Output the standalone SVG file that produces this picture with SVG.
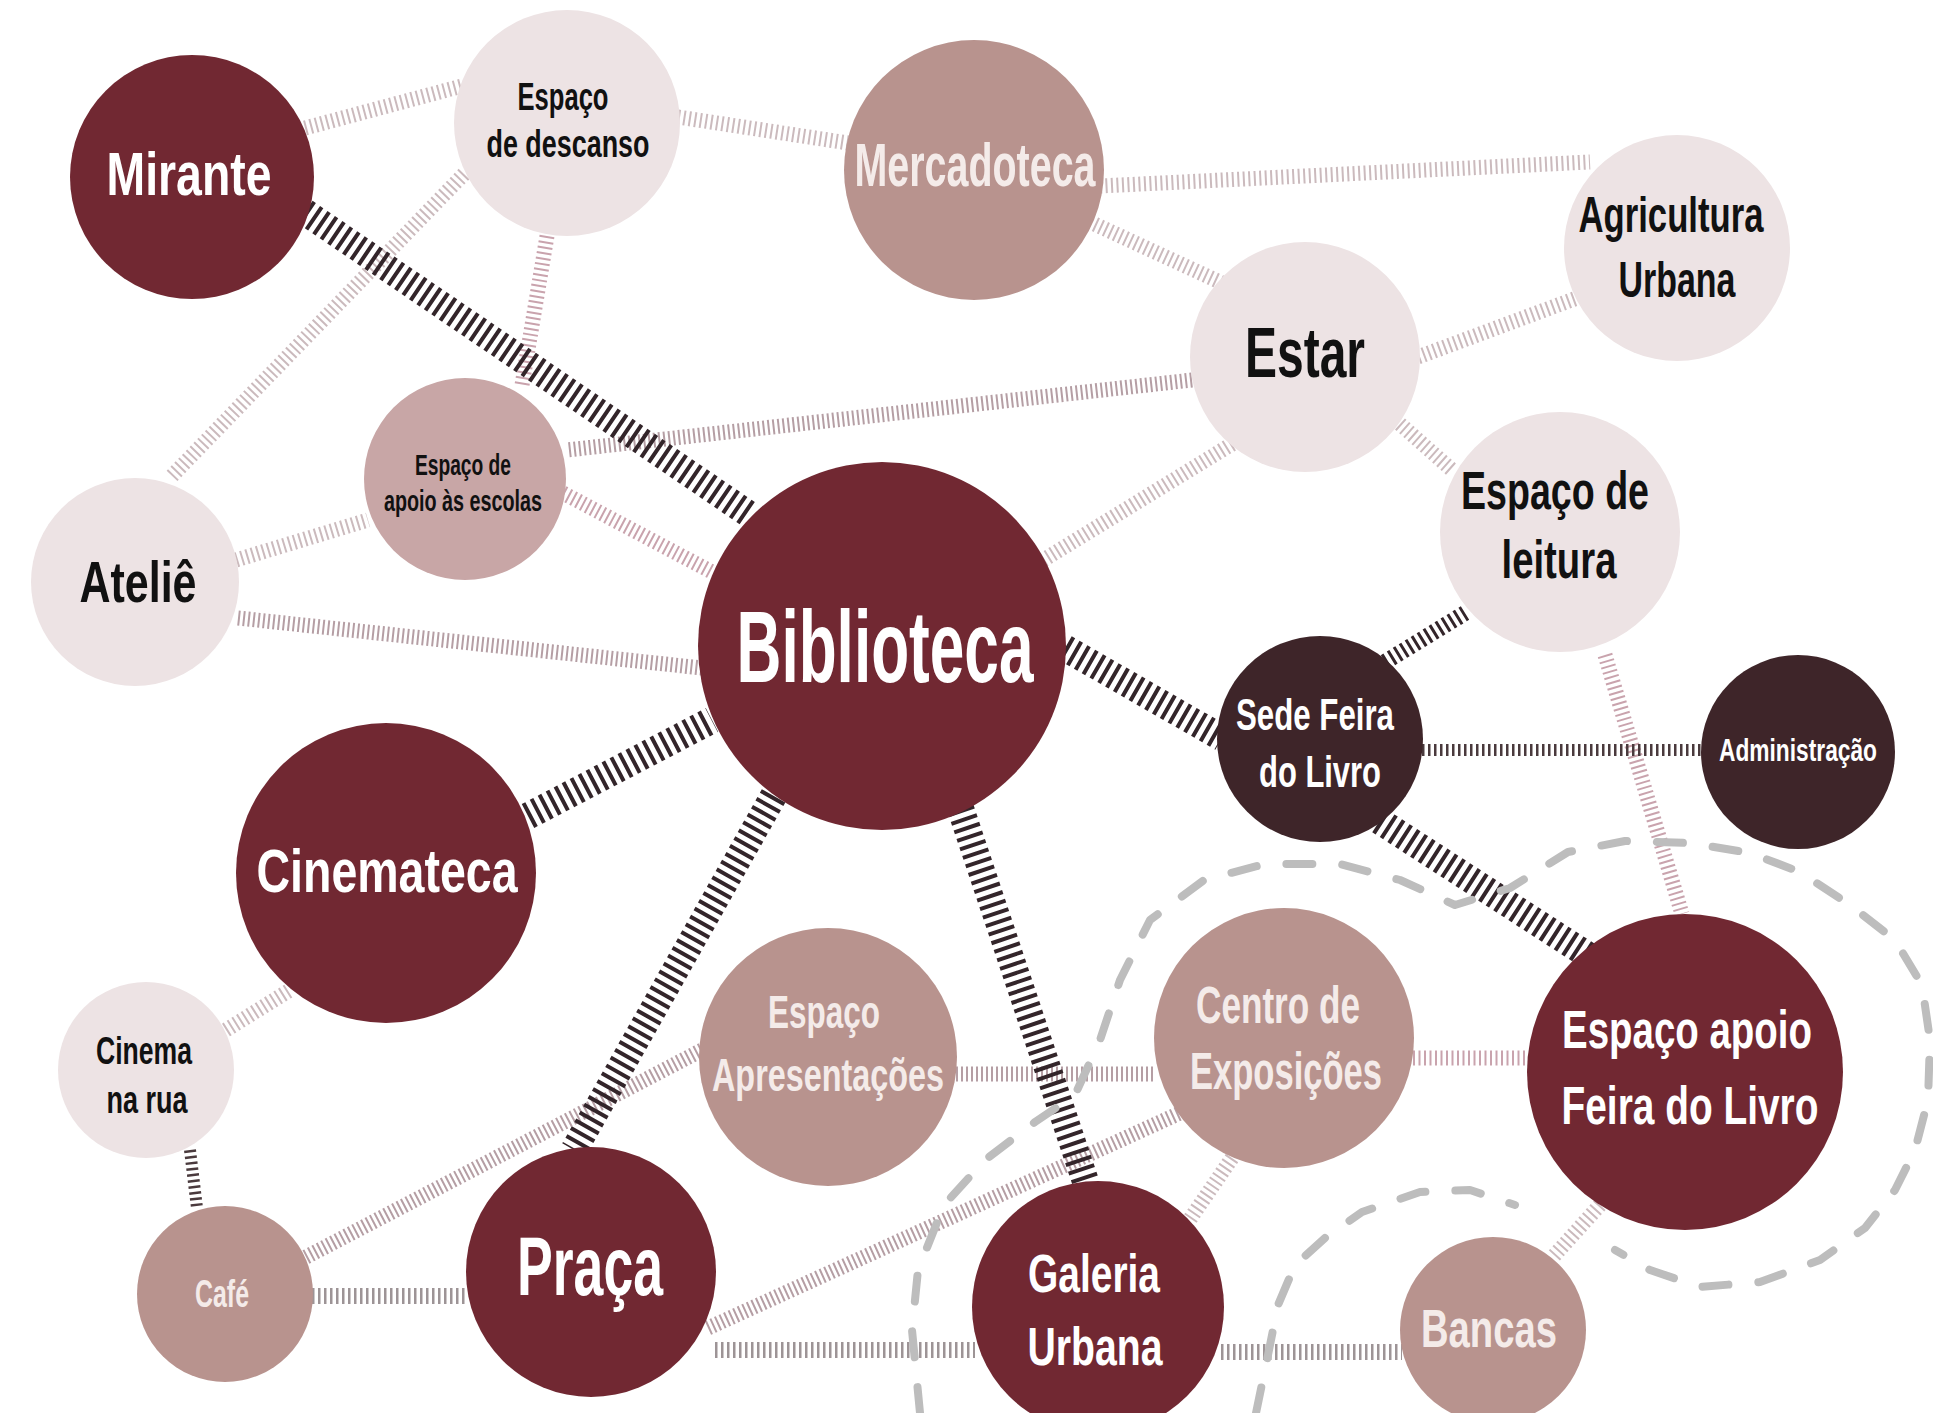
<svg xmlns="http://www.w3.org/2000/svg" width="1933" height="1413" viewBox="0 0 1933 1413">
<style>
.bg{fill:#ffffff}
.c-mar{fill:#712832}
.c-drk{fill:#3e2529}
.c-tau{fill:#b8938e}
.c-pnk{fill:#c8a6a6}
.c-lgt{fill:#ede3e4}
text{font-family:"Liberation Sans","DejaVu Sans",sans-serif;font-weight:700;text-anchor:middle}
.tw{fill:#ffffff}
.tc{fill:#f4ebe9}
.tb{fill:#111111}
.lt{stroke:#cbbabd;stroke-width:15;stroke-dasharray:2 3.5;fill:none}
.pk{stroke:#c9a3ad;stroke-width:15;stroke-dasharray:2 3.5;fill:none}
.gp{stroke:#b59ea4;stroke-width:15;stroke-dasharray:2 3;fill:none}
.gr{stroke:#9d9496;stroke-width:16;stroke-dasharray:2.5 3.5;fill:none}
.dk{stroke:#33252a;stroke-width:27;stroke-dasharray:4 5;fill:none}
.dm{stroke:#33252a;stroke-width:16;stroke-dasharray:3 4;fill:none}
.ds{stroke:#4a3a3d;stroke-width:12;stroke-dasharray:2.5 3.5;fill:none}
.lasso{stroke:#bdbdbd;stroke-width:8;stroke-dasharray:26 30;stroke-linecap:round;stroke-linejoin:round;fill:none}
</style>
<rect class="bg" x="0" y="0" width="1933" height="1413"/>

<g id="connectors">
  <line class="lt" x1="305" y1="128" x2="462" y2="86"/>
  <line class="lt" x1="678" y1="117" x2="848" y2="143"/>
  <line class="lt" x1="1100" y1="186" x2="1590" y2="162"/>
  <line class="lt" x1="1090" y1="222" x2="1222" y2="283"/>
  <line class="lt" x1="464" y1="174" x2="170" y2="478"/>
  <line class="pk" x1="547" y1="236" x2="522" y2="385"/>
  <line class="gp" x1="1192" y1="380" x2="567" y2="450"/>
  <line class="lt" x1="1232" y1="444" x2="1040" y2="562"/>
  <line class="lt" x1="1418" y1="357" x2="1577" y2="298"/>
  <line class="lt" x1="1400" y1="424" x2="1452" y2="470"/>
  <line class="pk" x1="1605" y1="655" x2="1682" y2="914"/>
  <line class="gp" x1="238" y1="618" x2="702" y2="668"/>
  <line class="pk" x1="563" y1="493" x2="712" y2="572"/>
  <line class="lt" x1="236" y1="560" x2="368" y2="520"/>
  <line class="lt" x1="226" y1="1030" x2="290" y2="990"/>
  <line class="gp" x1="306" y1="1257" x2="702" y2="1050"/>
  <line class="gr" x1="312" y1="1296" x2="467" y2="1296"/>
  <line class="gp" x1="708" y1="1328" x2="1180" y2="1113"/>
  <line class="gr" x1="715" y1="1350" x2="975" y2="1350"/>
  <line class="gr" x1="1221" y1="1352" x2="1402" y2="1352"/>
  <line class="gp" x1="956" y1="1074" x2="1156" y2="1074"/>
  <line class="pk" x1="1413" y1="1058" x2="1528" y2="1058"/>
  <line class="lt" x1="1232" y1="1158" x2="1188" y2="1222"/>
  <line class="lt" x1="1600" y1="1205" x2="1552" y2="1258"/>
  <line class="dk" x1="305" y1="212" x2="750" y2="515"/>
  <line class="dk" x1="528" y1="816" x2="712" y2="720"/>
  <line class="dk" x1="778" y1="788" x2="574" y2="1150"/>
  <line class="dk" x1="955" y1="792" x2="1085" y2="1180"/>
  <line class="dk" x1="1065" y1="648" x2="1222" y2="738"/>
  <line class="dk" x1="1372" y1="816" x2="1592" y2="958"/>
  <line class="dm" x1="1385" y1="662" x2="1465" y2="613"/>
  <line class="ds" x1="1422" y1="750" x2="1703" y2="750"/>
  <line class="ds" x1="190" y1="1150" x2="197" y2="1208"/>
  <path class="lasso" d="M920,1413 L912,1330 L918,1270 L944,1205 L985,1160 L1035,1122 L1075,1095 L1100,1040 L1120,980 L1150,920 L1204,880 L1265,864 L1340,864 L1400,880 L1455,905 L1510,888 L1568,852 L1625,841 L1690,843 L1750,853 L1800,872 L1850,905 L1895,940 L1922,985 L1930,1040 L1928,1100 L1915,1150 L1895,1190 L1865,1228 L1820,1260 L1760,1282 L1700,1287 L1650,1270 L1615,1250"/>
  <path class="lasso" d="M1256,1413 L1268,1355 L1278,1305 L1295,1265 L1325,1238 L1362,1212 L1420,1192 L1470,1190 L1515,1205"/>
</g>

<g id="n-mirante"><circle class="c-mar" cx="192" cy="177" r="122"/><text class="tw" x="189" y="195" font-size="62" textLength="165" lengthAdjust="spacingAndGlyphs">Mirante</text></g>
<g id="n-descanso"><circle class="c-lgt" cx="567" cy="123" r="113"/><text class="tb" x="563" y="110" font-size="38" textLength="91" lengthAdjust="spacingAndGlyphs">Espaço</text><text class="tb" x="568" y="157" font-size="38" textLength="163" lengthAdjust="spacingAndGlyphs">de descanso</text></g>
<g id="n-mercadoteca"><circle class="c-tau" cx="974" cy="170" r="130"/><text class="tc" x="975" y="186" font-size="62" textLength="241" lengthAdjust="spacingAndGlyphs">Mercadoteca</text></g>
<g id="n-agricultura"><circle class="c-lgt" cx="1677" cy="248" r="113"/><text class="tb" x="1671" y="232" font-size="50" textLength="185" lengthAdjust="spacingAndGlyphs">Agricultura</text><text class="tb" x="1677" y="297" font-size="50" textLength="117" lengthAdjust="spacingAndGlyphs">Urbana</text></g>
<g id="n-estar"><circle class="c-lgt" cx="1305" cy="357" r="115"/><text class="tb" x="1305" y="377" font-size="70" textLength="120" lengthAdjust="spacingAndGlyphs">Estar</text></g>
<g id="n-escolas"><circle class="c-pnk" cx="465" cy="479" r="101"/><text class="tb" x="463" y="475" font-size="30" textLength="96" lengthAdjust="spacingAndGlyphs">Espaço de</text><text class="tb" x="463" y="511" font-size="30" textLength="158" lengthAdjust="spacingAndGlyphs">apoio às escolas</text></g>
<g id="n-atelie"><circle class="c-lgt" cx="135" cy="582" r="104"/><text class="tb" x="138" y="602" font-size="58" textLength="117" lengthAdjust="spacingAndGlyphs">Ateliê</text></g>
<g id="n-leitura"><circle class="c-lgt" cx="1560" cy="532" r="120"/><text class="tb" x="1555" y="509" font-size="53" textLength="188" lengthAdjust="spacingAndGlyphs">Espaço de</text><text class="tb" x="1559" y="578" font-size="53" textLength="115" lengthAdjust="spacingAndGlyphs">leitura</text></g>
<g id="n-biblioteca"><circle class="c-mar" cx="882" cy="646" r="184"/><text class="tw" x="885" y="682" font-size="102" textLength="297" lengthAdjust="spacingAndGlyphs">Biblioteca</text></g>
<g id="n-sede"><circle class="c-drk" cx="1320" cy="739" r="103"/><text class="tw" x="1315" y="730" font-size="44" textLength="158" lengthAdjust="spacingAndGlyphs">Sede Feira</text><text class="tw" x="1320" y="787" font-size="44" textLength="122" lengthAdjust="spacingAndGlyphs">do Livro</text></g>
<g id="n-admin"><circle class="c-drk" cx="1798" cy="752" r="97"/><text class="tw" x="1798" y="761" font-size="32" textLength="158" lengthAdjust="spacingAndGlyphs">Administração</text></g>
<g id="n-cinemateca"><circle class="c-mar" cx="386" cy="873" r="150"/><text class="tw" x="387" y="892" font-size="62" textLength="261" lengthAdjust="spacingAndGlyphs">Cinemateca</text></g>
<g id="n-cinemarua"><circle class="c-lgt" cx="146" cy="1070" r="88"/><text class="tb" x="144" y="1064" font-size="38" textLength="96" lengthAdjust="spacingAndGlyphs">Cinema</text><text class="tb" x="147" y="1113" font-size="38" textLength="81" lengthAdjust="spacingAndGlyphs">na rua</text></g>
<g id="n-cafe"><circle class="c-tau" cx="225" cy="1294" r="88"/><text class="tc" x="222" y="1307" font-size="38" textLength="54" lengthAdjust="spacingAndGlyphs">Café</text></g>
<g id="n-praca"><circle class="c-mar" cx="591" cy="1272" r="125"/><text class="tw" x="590" y="1295" font-size="84" textLength="146" lengthAdjust="spacingAndGlyphs">Praça</text></g>
<g id="n-apresentacoes"><circle class="c-tau" cx="828" cy="1057" r="129"/><text class="tc" x="824" y="1028" font-size="47" textLength="112" lengthAdjust="spacingAndGlyphs">Espaço</text><text class="tc" x="828" y="1091" font-size="47" textLength="232" lengthAdjust="spacingAndGlyphs">Apresentações</text></g>
<g id="n-centro"><circle class="c-tau" cx="1284" cy="1038" r="130"/><text class="tc" x="1278" y="1023" font-size="51" textLength="164" lengthAdjust="spacingAndGlyphs">Centro de</text><text class="tc" x="1286" y="1089" font-size="51" textLength="192" lengthAdjust="spacingAndGlyphs">Exposições</text></g>
<g id="n-apoiofeira"><circle class="c-mar" cx="1685" cy="1072" r="158"/><text class="tw" x="1687" y="1048" font-size="54" textLength="250" lengthAdjust="spacingAndGlyphs">Espaço apoio</text><text class="tw" x="1690" y="1124" font-size="54" textLength="257" lengthAdjust="spacingAndGlyphs">Feira do Livro</text></g>
<g id="n-galeria"><circle class="c-mar" cx="1098" cy="1307" r="126"/><text class="tw" x="1094" y="1292" font-size="54" textLength="132" lengthAdjust="spacingAndGlyphs">Galeria</text><text class="tw" x="1095" y="1365" font-size="54" textLength="135" lengthAdjust="spacingAndGlyphs">Urbana</text></g>
<g id="n-bancas"><circle class="c-tau" cx="1493" cy="1330" r="93"/><text class="tc" x="1489" y="1347" font-size="54" textLength="136" lengthAdjust="spacingAndGlyphs">Bancas</text></g>
</svg>
